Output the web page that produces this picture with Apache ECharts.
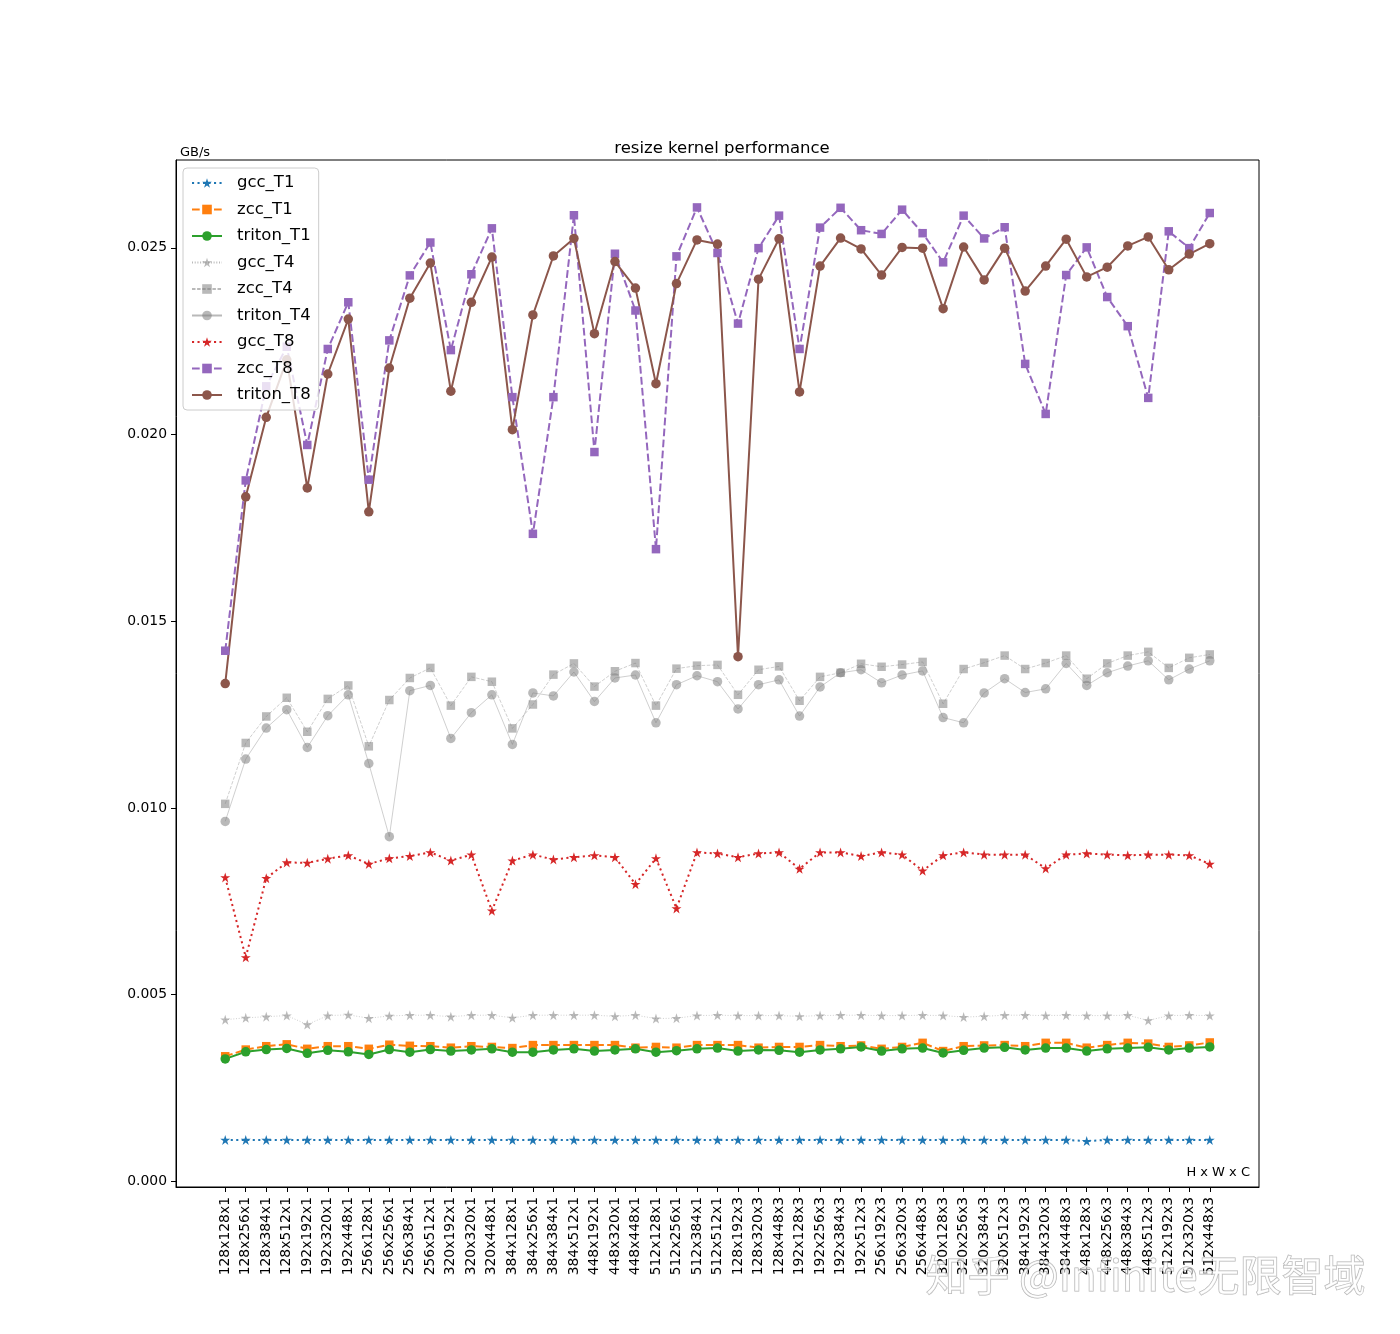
<!DOCTYPE html>
<html>
<head>
<meta charset="utf-8">
<script src="https://cdn.jsdelivr.net/npm/echarts@6/dist/echarts.min.js"></script>
<style>
  html, body { margin: 0; padding: 0; background: #fff; }
  #chart { width: 1400px; height: 1334px; }
</style>
</head>
<body>
<div id="chart"></div>
<script>
const categories = [
  '128x128x1', '128x256x1', '128x384x1', '128x512x1', '192x192x1', '192x320x1', '192x448x1',
  '256x128x1', '256x256x1', '256x384x1', '256x512x1', '320x192x1', '320x320x1', '320x448x1',
  '384x128x1', '384x256x1', '384x384x1', '384x512x1', '448x192x1', '448x320x1', '448x448x1',
  '512x128x1', '512x256x1', '512x384x1', '512x512x1',
  '128x192x3', '128x320x3', '128x448x3', '192x128x3', '192x256x3', '192x384x3', '192x512x3',
  '256x192x3', '256x320x3', '256x448x3', '320x128x3', '320x256x3', '320x384x3', '320x512x3',
  '384x192x3', '384x320x3', '384x448x3', '448x128x3', '448x256x3', '448x384x3', '448x512x3',
  '512x192x3', '512x320x3', '512x448x3'
]

const gccT1 = [
  0.00111, 0.00111, 0.00111, 0.00111, 0.00111, 0.00111, 0.00111, 0.00111, 0.00111, 0.00111,
  0.00111, 0.00111, 0.00111, 0.00111, 0.00111, 0.00111, 0.00111, 0.00111, 0.00111, 0.00111,
  0.00111, 0.00111, 0.00111, 0.00111, 0.00111, 0.00111, 0.00111, 0.00111, 0.00111, 0.00111,
  0.00111, 0.00111, 0.00111, 0.00111, 0.00111, 0.00111, 0.00111, 0.00111, 0.00111, 0.00111,
  0.00111, 0.00111, 0.00108, 0.00111, 0.00111, 0.00111, 0.00111, 0.00111, 0.00111
]
const zccT1 = [
  0.00335, 0.00353, 0.00362, 0.00367, 0.00355, 0.00362, 0.00362, 0.00355, 0.00366, 0.00363,
  0.00362, 0.00358, 0.00362, 0.00360, 0.00357, 0.00365, 0.00365, 0.00365, 0.00365, 0.00365,
  0.00358, 0.00360, 0.00358, 0.00365, 0.00365,
  0.00365, 0.00358, 0.00360, 0.00360, 0.00365, 0.00362, 0.00364, 0.00355, 0.00360, 0.00371,
  0.00349, 0.00362, 0.00364, 0.00365, 0.00362, 0.00371, 0.00371, 0.00358, 0.00365, 0.00371,
  0.00369, 0.00360, 0.00364, 0.00372
]
const tritonT1 = [
  0.00328, 0.00347, 0.00353, 0.00356, 0.00343, 0.00351, 0.00347, 0.00340, 0.00353, 0.00346,
  0.00353, 0.00349, 0.00352, 0.00355, 0.00346, 0.00346, 0.00352, 0.00355, 0.00349, 0.00352,
  0.00355, 0.00346, 0.00350, 0.00355, 0.00357,
  0.00349, 0.00352, 0.00351, 0.00346, 0.00352, 0.00355, 0.00360, 0.00349, 0.00355, 0.00357,
  0.00344, 0.00351, 0.00357, 0.00359, 0.00352, 0.00357, 0.00357, 0.00349, 0.00355, 0.00357,
  0.00359, 0.00352, 0.00357, 0.00360
]
const gccT4 = [
  0.00433, 0.00438, 0.00441, 0.00444, 0.00420, 0.00444, 0.00446, 0.00437, 0.00443, 0.00445,
  0.00445, 0.00441, 0.00445, 0.00445, 0.00438, 0.00445, 0.00445, 0.00445, 0.00445, 0.00442,
  0.00445, 0.00436, 0.00437, 0.00444, 0.00445,
  0.00444, 0.00444, 0.00444, 0.00442, 0.00444, 0.00445, 0.00445, 0.00444, 0.00444, 0.00445,
  0.00444, 0.00440, 0.00442, 0.00445, 0.00445, 0.00444, 0.00445, 0.00444, 0.00444, 0.00445,
  0.00431, 0.00444, 0.00445, 0.00444
]
const zccT4 = [
  0.01011, 0.01174, 0.01245, 0.01295, 0.01204, 0.01292, 0.01328, 0.01165, 0.01289, 0.01348,
  0.01375, 0.01274, 0.01351, 0.01338, 0.01213, 0.01277, 0.01357, 0.01387, 0.01325, 0.01366,
  0.01388, 0.01274, 0.01373, 0.01381, 0.01383,
  0.01303, 0.01370, 0.01379, 0.01287, 0.01351, 0.01362, 0.01386, 0.01378, 0.01384, 0.01391,
  0.01279, 0.01372, 0.01389, 0.01408, 0.01372, 0.01388, 0.01408, 0.01346, 0.01387, 0.01408,
  0.01418, 0.01375, 0.01402, 0.01411
]
const tritonT4 = [
  0.00964, 0.01131, 0.01214, 0.01263, 0.01162, 0.01247, 0.01303, 0.01119, 0.00923, 0.01314,
  0.01328, 0.01186, 0.01255, 0.01303, 0.01170, 0.01308, 0.01300, 0.01364, 0.01285, 0.01348,
  0.01356, 0.01228, 0.01330, 0.01354, 0.01338,
  0.01265, 0.01330, 0.01343, 0.01246, 0.01324, 0.01362, 0.01370, 0.01335, 0.01356, 0.01367,
  0.01242, 0.01228, 0.01308, 0.01346, 0.01309, 0.01319, 0.01387, 0.01328, 0.01362, 0.01380,
  0.01394, 0.01343, 0.01372, 0.01394
]
const gccT8 = [
  0.00814, 0.00600, 0.00812, 0.00854, 0.00853, 0.00864, 0.00873, 0.00850, 0.00865, 0.00871,
  0.00881, 0.00859, 0.00875, 0.00725, 0.00859, 0.00875, 0.00862, 0.00868, 0.00873, 0.00868,
  0.00796, 0.00865, 0.00731, 0.00881, 0.00878,
  0.00868, 0.00878, 0.00881, 0.00837, 0.00881, 0.00881, 0.00871, 0.00881, 0.00875, 0.00832,
  0.00873, 0.00881, 0.00875, 0.00875, 0.00875, 0.00838, 0.00875, 0.00878, 0.00875, 0.00873,
  0.00875, 0.00875, 0.00873, 0.00850
]
const zccT8 = [
  0.01421, 0.01877, 0.02129, 0.02235, 0.01972, 0.02229, 0.02354, 0.01879, 0.02252, 0.02426,
  0.02514, 0.02226, 0.02429, 0.02552, 0.02100, 0.01734, 0.02100, 0.02587, 0.01953, 0.02484,
  0.02332, 0.01693, 0.02477, 0.02608, 0.02486,
  0.02297, 0.02499, 0.02586, 0.02229, 0.02554, 0.02607, 0.02547, 0.02537, 0.02602, 0.02539,
  0.02461, 0.02586, 0.02525, 0.02555, 0.02189, 0.02055, 0.02427, 0.02501, 0.02368, 0.02290,
  0.02098, 0.02544, 0.02499, 0.02593
]
const tritonT8 = [
  0.01333, 0.01833, 0.02046, 0.02200, 0.01857, 0.02162, 0.02309, 0.01793, 0.02178, 0.02365,
  0.02459, 0.02116, 0.02354, 0.02475, 0.02013, 0.02320, 0.02478, 0.02525, 0.02270, 0.02463,
  0.02392, 0.02136, 0.02404, 0.02521, 0.02510,
  0.01405, 0.02416, 0.02524, 0.02114, 0.02451, 0.02526, 0.02497, 0.02427, 0.02501, 0.02499,
  0.02337, 0.02502, 0.02414, 0.02499, 0.02384, 0.02451, 0.02523, 0.02422, 0.02448, 0.02505,
  0.02529, 0.02441, 0.02483, 0.02511
]
const yTicks = [0, 0.005, 0.010, 0.015, 0.020, 0.025]

// five-pointed star like matplotlib's '*' marker
function starPath() {
  const pts = []
  for (let k = 0; k < 10; k++) {
    const r = k % 2 === 0 ? 1 : 0.381966
    const a = -Math.PI / 2 + k * Math.PI / 5
    pts.push((r * Math.cos(a)).toFixed(4) + ',' + (r * Math.sin(a)).toFixed(4))
  }
  return 'path://M' + pts.join('L') + 'Z'
}
const STAR = starPath()

const DOT = [2.1, 3.4]
const DASH = [7.7, 3.3]
const GRAY = 'rgba(128,128,128,0.55)'

const toPoints = arr => arr.map((v, i) => [i, v])

function makeSeries(name, values, color, symbol, size, lineType, width) {
  return {
    name,
    type: 'line',
    data: toPoints(values),
    symbol,
    symbolSize: size,
    showAllSymbol: true,
    lineStyle: { color, width, type: lineType },
    itemStyle: { color, borderWidth: 0 },
    emphasis: { disabled: true }
  }
}

const seriesList = [
  makeSeries('gcc_T1', gccT1, '#1f77b4', STAR, 10, DOT, 2),
  makeSeries('zcc_T1', zccT1, '#ff7f0e', 'rect', 8.5, DASH, 2),
  makeSeries('triton_T1', tritonT1, '#2ca02c', 'circle', 9.5, 'solid', 2),
  makeSeries('gcc_T4', gccT4, GRAY, STAR, 10, [1, 1.7], 0.7),
  makeSeries('zcc_T4', zccT4, GRAY, 'rect', 8.5, [3.5, 1.6], 0.7),
  makeSeries('triton_T4', tritonT4, GRAY, 'circle', 9.5, 'solid', 0.7),
  makeSeries('gcc_T8', gccT8, '#d62728', STAR, 10, DOT, 2),
  makeSeries('zcc_T8', zccT8, '#9467bd', 'rect', 8.5, DASH, 2),
  makeSeries('triton_T8', tritonT8, '#8c564b', 'circle', 9.5, 'solid', 2)
]

const chart = echarts.init(document.getElementById('chart'))
const FONT = 'DejaVu Sans'
const xTickValues = categories.map((c, i) => i)

chart.setOption({
  animation: false,
  backgroundColor: '#fff',
  textStyle: { fontFamily: FONT, color: '#000' },
  title: {
    text: 'resize kernel performance',
    left: 717,
    top: 135,
    textAlign: 'center',
    textStyle: { fontFamily: FONT, fontSize: 16.5, fontWeight: 'normal', color: '#000' }
  },
  grid: {
    left: 176,
    right: 141,
    top: 160,
    bottom: 147,
    show: true,
    borderColor: '#000',
    borderWidth: 1,
    backgroundColor: '#fff'
  },
  legend: {
    orient: 'vertical',
    left: 183,
    top: 168,
    padding: [6, 8, 6, 8],
    backgroundColor: 'rgba(255,255,255,0.8)',
    borderColor: '#cccccc',
    borderWidth: 1,
    borderRadius: 4,
    itemWidth: 30,
    itemHeight: 12,
    itemGap: 8.5,
    textStyle: { fontFamily: FONT, fontSize: 16.5, lineHeight: 18, color: '#000', padding: [0, 0, 0, 10] },
    data: seriesList.map(s => s.name)
  },
  xAxis: {
    type: 'value',
    min: -2.4,
    max: 50.4,
    axisLine: { show: true, onZero: false, lineStyle: { color: '#000', width: 1 } },
    axisTick: {
      show: true,
      inside: false,
      length: 5,
      customValues: xTickValues,
      lineStyle: { color: '#000', width: 1 }
    },
    axisLabel: {
      customValues: xTickValues,
      rotate: 90,
      margin: 10,
      fontFamily: FONT,
      fontSize: 13.9,
      color: '#000',
      formatter: v => categories[Math.round(v)] || ''
    },
    splitLine: { show: false }
  },
  yAxis: {
    type: 'value',
    min: -0.00015,
    max: 0.02735,
    axisLine: { show: true, onZero: false, lineStyle: { color: '#000', width: 1 } },
    axisTick: {
      show: true,
      length: 5,
      customValues: yTicks,
      lineStyle: { color: '#000', width: 1 }
    },
    axisLabel: {
      customValues: yTicks,
      margin: 9,
      fontFamily: FONT,
      fontSize: 13.9,
      color: '#000',
      formatter: v => v.toFixed(3)
    },
    splitLine: { show: false }
  },
  graphic: [
    {
      type: 'text',
      left: 180,
      top: 146,
      style: { text: 'GB/s', font: '13px "DejaVu Sans"', fill: '#000' }
    },
    {
      type: 'text',
      right: 150,
      top: 1166,
      style: { text: 'H x W x C', font: '13px "DejaVu Sans"', fill: '#000' }
    },
    {
      type: 'text',
      left: 925,
      top: 1254,
      z: 100,
      style: {
        text: '知乎 @Infinite无限智域',
        font: '42px "Noto Sans CJK SC"',
        fill: 'rgba(255,255,255,0.6)',
        stroke: 'rgba(110,110,110,0.55)',
        lineWidth: 1
      }
    }
  ],
  series: seriesList
})
</script>
</body>
</html>
